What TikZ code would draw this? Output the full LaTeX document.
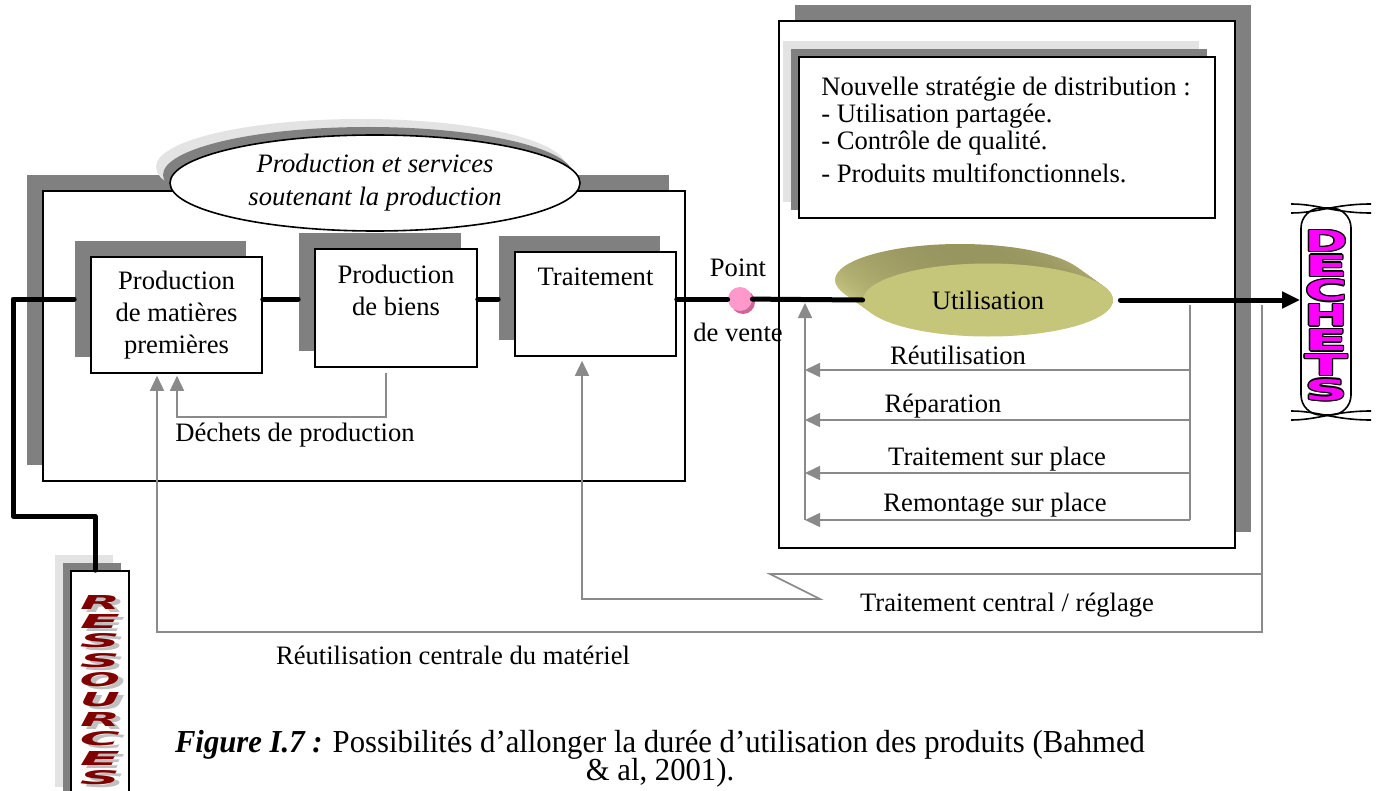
\documentclass[tikz,border=0pt]{standalone}
\usepackage{fontspec}
\setmainfont{Liberation Serif}
\newfontfamily\artfont{DejaVu Sans}
\usetikzlibrary{arrows.meta,shapes.geometric,shadows,calc}
\definecolor{shd}{HTML}{808080}
\definecolor{lshd}{HTML}{E3E3E3}
\definecolor{gln}{HTML}{8A8A8A}
\definecolor{pinkdot}{HTML}{FF99CC}
\definecolor{pinkdark}{HTML}{CC6699}
\definecolor{wine}{HTML}{800000}
\definecolor{dmag}{HTML}{FF00FF}
\definecolor{olivef}{HTML}{C6C67A}
\definecolor{olivel}{HTML}{E0E092}
\definecolor{olived}{HTML}{989660}
\definecolor{wordshadow}{HTML}{C0C0C0}
\newsavebox\capA
\newsavebox\capB
\newlength\capw
% caption lines are measured once so both can be scaled to the same width factor
\AtBeginDocument{%
  \sbox\capA{\fontsize{16}{13}\selectfont\textbf{\textit{Figure I.7 :}} Possibilités d’allonger la durée d’utilisation des produits (Bahmed}%
  \sbox\capB{\fontsize{16}{13}\selectfont \& al, 2001).}%
  \global\setlength\capw{\wd\capA}%
}

\tikzset{
  box/.style={draw, line width=0.8pt, fill=white, inner sep=0pt},
  sh/.style n args={3}{general shadow={fill=#1, shadow xshift=#2, shadow yshift=#3}},
  mainln/.style={line width=2.5pt, line join=round, line cap=round},
  gline/.style={draw=gln, line width=0.8pt},
  garrow/.style={gline, -{Triangle[length=7.5pt,width=7pt]}},
  lbl/.style={inner sep=0pt},
  rlet/.style={inner sep=0pt, font=\artfont\bfseries\itshape},
  dlet/.style={inner sep=0pt, font=\artfont\bfseries},
}

\begin{document}
\begin{tikzpicture}[x=0.5pt, y=-0.5pt, font=\fontsize{13.3}{16}\selectfont]
\useasboundingbox (0,0) rectangle (1380,791);

% production block with its title ellipse
\node[box, sh={shd}{-8pt}{8pt}, minimum width=321pt, minimum height=145pt] (prod) at (364,336) {};
\node[ellipse, draw, line width=0.8pt, fill=white, inner sep=0pt,
      minimum width=205pt, minimum height=48pt,
      sh={lshd}{-7pt}{8pt}, sh={shd}{-3.5pt}{4pt},
      font=\fontsize{13.3}{16.5}\selectfont\itshape, align=center] (svc) at (375,183)
      {Production et services\\soutenant la production};

% process steps
\node[box, sh={shd}{-8pt}{8pt}, minimum width=85.5pt, minimum height=58pt, align=center] (b1) at (176.5,315)
      {Production\\de matières\\premières};
\node[box, sh={shd}{-8pt}{8pt}, minimum width=81pt, minimum height=59pt] (b2) at (396,308) {};
\node[lbl, align=center] (b2t) at ([yshift=-21.25pt]b2.north) {Production\\de biens};
\node[box, sh={shd}{-8pt}{8pt}, minimum width=80.5pt, minimum height=52pt] (b3) at (595.5,304) {};
\node[lbl] (b3t) at ([yshift=-13pt]b3.north) {Traitement};

% use phase panel
\node[box, sh={shd}{8pt}{8pt}, minimum width=228pt, minimum height=263.5pt] (pan) at (1007,284.5) {};
\node[box, sh={lshd}{-8pt}{8pt}, sh={shd}{-4pt}{4pt}, minimum width=208pt, minimum height=80.5pt] (strat) at (1007,137.5) {};
\node[lbl, anchor=north west, align=left, font=\fontsize{13.3}{13.5}\selectfont] (stratt) at (821,77)
      {Nouvelle stratégie de distribution :\\- Utilisation partagée.\\- Contrôle de qualité.\\[3pt]- Produits multifonctionnels.};

% extruded "Utilisation" disc
\foreach \t in {0,0.05,...,1.01} {
  \shade[top color=olived, bottom color=olivel] (960+28*\t, 280+20*\t) ellipse [x radius=62.5pt, y radius=18pt];
}
\node[ellipse, fill=olivef, inner sep=0pt, minimum width=125pt, minimum height=36.5pt] (util) at (988,300) {Utilisation};

% point of sale
\node[circle, fill=pinkdot, inner sep=0pt, minimum size=12pt, sh={pinkdark}{1.5pt}{-1.5pt}] (pv) at (740,299) {};
\node[lbl] (pvt) at (738,268) {Point};
\node[lbl] (pvb) at (738,332) {de vente};

% resources column
\node[box, sh={lshd}{-8pt}{8pt}, sh={shd}{-4pt}{4pt}, minimum width=29pt, minimum height=116pt] (res) at (100,687) {};
\foreach \L [count=\i from 0] in {R,E,S,S,O,U,R,C,E,S} {
  \pgfmathsetmacro\yy{602+19.5*\i}
  \node[rlet, text=wordshadow] (rs\i) at (105,\yy+3) {\resizebox{20pt}{7pt}{\L}};
  \node[rlet, text=wine] (r\i) at (100,\yy) {\resizebox{20pt}{7pt}{\L}};
}

% waste column
\node[draw, line width=0.8pt, fill=white, rounded corners=10pt, minimum width=25pt, minimum height=103.5pt] (dech) at (1326,311.5) {};
\draw[line width=0.8pt] (1291,204) .. controls (1318,204) and (1334,213) .. (1371,213);
\draw[line width=0.8pt] (1291,213) .. controls (1318,213) and (1334,204) .. (1371,204);
\draw[line width=0.8pt] (1291,411) .. controls (1318,411) and (1334,420) .. (1371,420);
\draw[line width=0.8pt] (1291,420) .. controls (1318,420) and (1334,411) .. (1371,411);
\foreach \L [count=\i from 0] in {D,E,C,H,E,T,S} {
  \pgfmathsetmacro\yy{241+24.8*\i}
  \foreach \dx/\dy in {0.7/0,-0.7/0,0/0.7,0/-0.7,0.5/0.5,0.5/-0.5,-0.5/0.5,-0.5/-0.5}
    \node[dlet, text=black, xshift=\dx pt, yshift=\dy pt] at (1326,\yy) {\resizebox{21.5pt}{10.5pt}{\L}};
  \node[dlet, text=dmag] (d\i) at (1326,\yy) {\resizebox{21.5pt}{10.5pt}{\L}};
}

% main material flow
\coordinate (ml) at (0,299);
\coordinate (lc) at (13,516);
\draw[mainln] ([xshift=-2.5pt]res.north) |- (lc) -- (lc |- ml) -- ([xshift=-8pt]b1.west |- ml);
\draw[mainln] (b1.east |- ml) -- ([xshift=-8pt]b2.west |- ml);
\draw[mainln] (b2.east |- ml) -- ([xshift=-8pt]b3.west |- ml);
\draw[mainln] (b3.east |- ml) -- (pv);
\draw[mainln] (pv) -- (util.west);
\draw[mainln, -{Triangle[length=9pt,width=8pt]}] ([xshift=3.5pt]util.east) -- (util.east -| dech.west);

% production waste loop
\coordinate (dk) at (177,417);
\draw[garrow, shorten >=1pt] ([xshift=-5pt,yshift=-2.5pt]b2.south) |- (dk) -- (dk |- b1.south);
\node[lbl] (dkt) at (295,435) {Déchets de production};

% on-site loops
\coordinate (rt) at (1190,305);
\coordinate (rbot) at (1190,520);
\coordinate (lx) at (805,0);
\draw[gline] (rt) -- (rbot);
\foreach \yy/\nm in {370/ra,420/rb,473/rc,520/rd} {
  \coordinate (\nm) at (1190,\yy);
  \draw[garrow] (\nm) -- (\nm -| lx);
}
\coordinate (lb) at (805,520);
\coordinate (lt) at (805,303);
\draw[garrow] (lb) -- (lt);
\node[lbl] (lra) at (958,355) {Réutilisation};
\node[lbl] (lrb) at (943,406) {Réparation};
\node[lbl] (lrc) at (997,459) {Traitement sur place};
\node[lbl] (lrd) at (995,505) {Remontage sur place};

% central loops
\coordinate (cr1) at (1262,305);
\coordinate (cr2) at (157,632);
\draw[garrow, shorten >=1pt] (cr1) |- (cr2) -- (cr2 |- b1.south);
\coordinate (tc1) at (1262,574);
\coordinate (tc2) at (770,574);
\coordinate (tc3) at (820,599);
\coordinate (tc4) at (582,599);
\draw[garrow, shorten >=2pt] (tc1) -- (tc2) -- (tc3) -- (tc4) -- (tc4 |- b3.south);
\node[lbl] (tct) at (1007,605) {Traitement central / réglage};
\node[lbl] (crt) at (453,655) {Réutilisation centrale du matériel};

% caption
\pgfmathsetmacro\capf{485/\capw}
\node[lbl] (capa) at (660,745) {\scalebox{\capf}[1]{\usebox\capA}};
\node[lbl] (capb) at (660,773) {\scalebox{\capf}[1]{\usebox\capB}};
\end{tikzpicture}
\end{document}
